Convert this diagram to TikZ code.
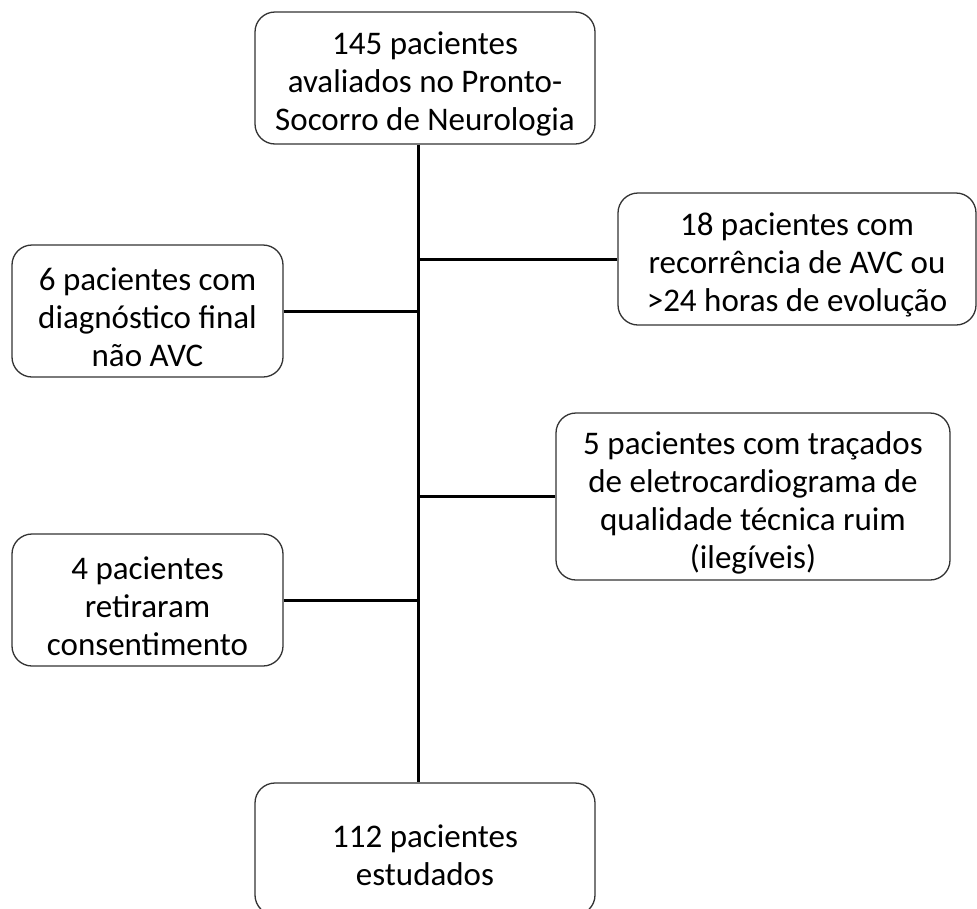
\documentclass[tikz,border=0pt]{standalone}
\usepackage{fontspec}
\setmainfont{Carlito}
\newcommand{\toppad}{\rule{0pt}{35pt}}
\begin{document}
\begin{tikzpicture}[x=1pt,y=-1pt,
  box/.style={draw=black!80, line width=1.3pt, rounded corners=20pt, align=center,
    inner sep=0pt, font=\fontsize{33}{38}\selectfont, text=black},
  conn/.style={draw=black, line width=3pt}]
\useasboundingbox (0,0) rectangle (977,908);
\coordinate (sp) at (418,0);
\node[box, minimum width=340pt, minimum height=132pt] (top) at (425,78)
  {\toppad 145 pacientes\\avaliados no Pronto-\\Socorro de Neurologia};
\node[box, minimum width=358pt, minimum height=132pt] (r1) at (797,259)
  {\toppad 18 pacientes com\\recorrência de AVC ou\\>24 horas de evolução};
\node[box, minimum width=271pt, minimum height=132pt] (l1) at (147.5,311)
  {\toppad 6 pacientes com\\diagnóstico final\\não AVC};
\node[box, minimum width=394pt, minimum height=167pt] (r2) at (753,496.5)
  {\toppad 5 pacientes com traçados\\de eletrocardiograma de\\qualidade técnica ruim\\(ilegíveis)};
\node[box, minimum width=271pt, minimum height=132pt] (l2) at (147.5,600)
  {\toppad 4 pacientes\\retiraram\\consentimento};
\node[box, minimum width=340pt, minimum height=132pt] (bot) at (425,849)
  {\toppad 112 pacientes\\estudados};
\draw[conn] (top.south -| sp) -- (bot.north -| sp);
\draw[conn] (r1.west) -- (r1.west -| sp);
\draw[conn] (l1.east) -- (l1.east -| sp);
\draw[conn] (r2.west) -- (r2.west -| sp);
\draw[conn] (l2.east) -- (l2.east -| sp);
\end{tikzpicture}
\end{document}
